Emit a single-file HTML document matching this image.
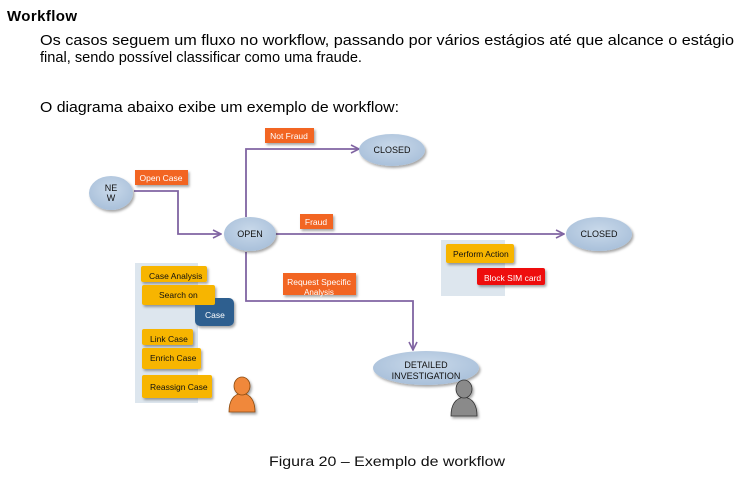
<!DOCTYPE html>
<html><head><meta charset="utf-8"><style>
html,body{margin:0;padding:0;background:#fff;}
svg{display:block;font-family:"Liberation Sans",Arial,sans-serif;}
</style></head><body>
<svg width="746" height="480" viewBox="0 0 746 480" xmlns="http://www.w3.org/2000/svg">
<defs>
<radialGradient id="ell" cx="50%" cy="40%" r="60%"><stop offset="0" stop-color="#c9d9ea"/><stop offset="1" stop-color="#a9c0da"/></radialGradient>
<filter id="sh" x="-20%" y="-20%" width="150%" height="160%"><feDropShadow dx="1.5" dy="2" stdDeviation="1.2" flood-color="#000" flood-opacity="0.35"/></filter>
<marker id="ar" markerWidth="10" markerHeight="10" refX="9" refY="5" orient="auto" markerUnits="userSpaceOnUse"><path d="M1,1 L9,5 L1,9" fill="none" stroke="#8064a2" stroke-width="1.6"/></marker>
</defs>
<text x="7" y="21" font-size="15" font-weight="bold" textLength="70">Workflow</text>
<text x="40" y="45" font-size="15" textLength="694" lengthAdjust="spacingAndGlyphs">Os casos seguem um fluxo no workflow, passando por vários estágios até que alcance o estágio</text>
<text x="40" y="62" font-size="15" textLength="322" lengthAdjust="spacingAndGlyphs">final, sendo possível classificar como uma fraude.</text>
<text x="40" y="112" font-size="15" textLength="359" lengthAdjust="spacingAndGlyphs">O diagrama abaixo exibe um exemplo de workflow:</text>

<!-- panels -->
<rect x="135" y="263" width="63" height="140" fill="#dde6ee"/>
<rect x="441" y="240" width="64" height="56" fill="#dde6ee"/>

<!-- connectors -->
<g fill="none" stroke="#8064a2" stroke-width="1.8">
<path d="M134,191 H178 V234 H221" marker-end="url(#ar)"/>
<path d="M246,217 V149 H359" marker-end="url(#ar)"/>
<path d="M275,234 H564" marker-end="url(#ar)"/>
<path d="M246,252 V301 H413 V350" marker-end="url(#ar)"/>
</g>

<!-- ellipses -->
<g filter="url(#sh)" fill="url(#ell)">
<ellipse cx="111" cy="193" rx="22" ry="17"/>
<ellipse cx="250" cy="234" rx="26" ry="17"/>
<ellipse cx="392" cy="150" rx="33" ry="16"/>
<ellipse cx="599" cy="234" rx="33" ry="17"/>
<ellipse cx="426" cy="368" rx="53" ry="17"/>
</g>
<g font-size="9" text-anchor="middle" fill="#111">
<text x="111" y="191">NE</text><text x="111" y="201">W</text>
<text x="250" y="237">OPEN</text>
<text x="392" y="153">CLOSED</text>
<text x="599" y="237">CLOSED</text>
<text x="426" y="368">DETAILED</text><text x="426" y="379">INVESTIGATION</text>
</g>

<!-- orange labels -->
<g fill="#f26522" filter="url(#sh)">
<rect x="135" y="170" width="53" height="15"/>
<rect x="265" y="128" width="49" height="15"/>
<rect x="300" y="214" width="33" height="15"/>
<rect x="283" y="273" width="73" height="22"/>
</g>
<g font-size="8.5" fill="#fff" text-anchor="middle">
<text x="161" y="181">Open Case</text>
<text x="289" y="139">Not Fraud</text>
<text x="316" y="225">Fraud</text>
<text x="319" y="285">Request Specific</text>
<text x="319" y="295" font-size="8">Analysis</text>
</g>

<!-- yellow buttons -->
<g fill="#f7b500" filter="url(#sh)">
<rect x="141" y="266" width="66" height="16" rx="2"/>
<rect x="195" y="298" width="39" height="28" rx="5" fill="#2e5f8f"/>
<rect x="142" y="285" width="73" height="20" rx="2"/>
<rect x="142" y="329" width="51" height="16" rx="2"/>
<rect x="142" y="348" width="59" height="21" rx="2"/>
<rect x="142" y="375" width="70" height="23" rx="2"/>
<rect x="446" y="244" width="68" height="19" rx="2"/>
<rect x="477" y="268" width="68" height="17" rx="2" fill="#ee1111"/>
</g>
<g font-size="8.5" fill="#111">
<text x="149" y="279">Case Analysis</text>
<text x="159" y="298">Search  on</text>
<text x="205" y="318" fill="#fff">Case</text>
<text x="150" y="342">Link Case</text>
<text x="150" y="361">Enrich Case</text>
<text x="150" y="390">Reassign Case</text>
<text x="453" y="257">Perform Action</text>
<text x="484" y="281" fill="#fff">Block SIM card</text>
</g>

<!-- persons -->
<g filter="url(#sh)">
<g fill="#f0883a" stroke="#8a4a10" stroke-width="0.8">
<path d="M229,412 Q229,395 242,393 Q255,395 255,412 Z"/>
<ellipse cx="242" cy="386" rx="8" ry="9"/>
</g>
<g fill="#8a8a8a" stroke="#333" stroke-width="0.8">
<path d="M451,416 Q451,399 464,397 Q477,399 477,416 Z"/>
<ellipse cx="464" cy="389" rx="8" ry="9"/>
</g>
</g>

<text x="269" y="466" font-size="14" textLength="236" lengthAdjust="spacingAndGlyphs" fill="#111">Figura 20 – Exemplo de workflow</text>
</svg>
</body></html>
